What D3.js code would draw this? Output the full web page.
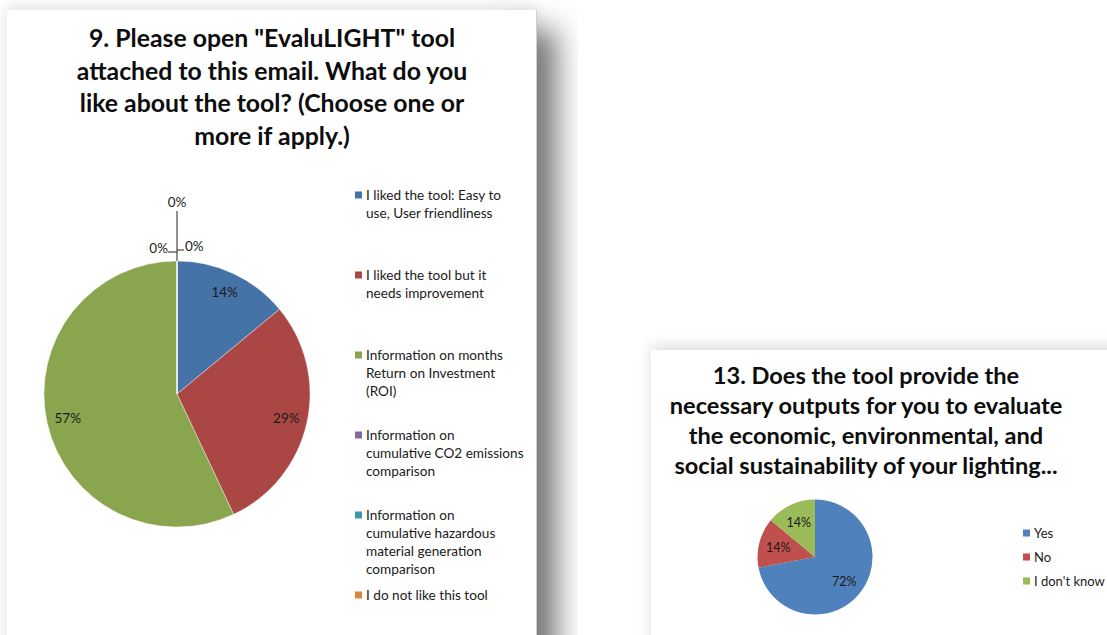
<!DOCTYPE html>
<html><head><meta charset="utf-8">
<script src="https://cdn.jsdelivr.net/npm/d3@7"></script>
<style>html,body{margin:0;padding:0;background:#fff;overflow:hidden}</style>
</head><body>
<svg id="chart" width="1107" height="635"></svg>
<script>
// ---------- data ----------
const q9Title = ['9. Please open "EvaluLIGHT" tool', 'attached to this email. What do you', 'like about the tool? (Choose one or', 'more if apply.)'];
const q9Categories = ['I liked the tool: Easy to use, User friendliness', 'I liked the tool but it needs improvement', 'Information on months Return on Investment (ROI)', 'Information on cumulative CO2 emissions comparison', 'Information on cumulative hazardous material generation comparison', 'I do not like this tool'];
const q9LegendLines = [
  ['I liked the tool: Easy to', 'use, User friendliness'],
  ['I liked the tool but it', 'needs improvement'],
  ['Information on months', 'Return on Investment', '(ROI)'],
  ['Information on', 'cumulative CO2 emissions', 'comparison'],
  ['Information on', 'cumulative hazardous', 'material generation', 'comparison'],
  ['I do not like this tool']
];
const q9Values = [14, 29, 57, 0, 0, 0];
const q9Colors = ['#4572A7', '#AA4643', '#89A54E', '#80699B', '#3D96AE', '#DB843D'];

const q13Title = ['13. Does the tool provide the', 'necessary outputs for you to evaluate', 'the economic, environmental, and', 'social sustainability of your lighting...'];
const q13Categories = ['Yes', 'No', "I don't know"];
const q13Values = [72, 14, 14];
const q13Colors = ['#4F81BD', '#C0504D', '#9BBB59'];

// ---------- drawing ----------
const FONT = 'Lato, "Open Sans", sans-serif';
const svg = d3.select('#chart');
const defs = svg.append('defs');
defs.append('filter').attr('id', 'blurL').attr('x', '-50%').attr('y', '-50%').attr('width', '200%').attr('height', '200%')
  .append('feGaussianBlur').attr('stdDeviation', 15);
defs.append('filter').attr('id', 'blurS').attr('x', '-50%').attr('y', '-50%').attr('width', '200%').attr('height', '200%')
  .append('feGaussianBlur').attr('stdDeviation', 7);

// left panel shadow + panel
svg.append('rect').attr('x', 7).attr('y', 6).attr('width', 529).attr('height', 700).attr('fill', '#e2e2e2').attr('filter', 'url(#blurS)');
svg.append('rect').attr('x', 512).attr('y', 30).attr('width', 44).attr('height', 700).attr('fill', '#707070').attr('filter', 'url(#blurL)');
svg.append('rect').attr('x', 7).attr('y', 10).attr('width', 529).attr('height', 700).attr('fill', '#fff');
svg.append('line').attr('x1', 536.5).attr('x2', 536.5).attr('y1', 10).attr('y2', 635).attr('stroke', '#cfcfcf').attr('stroke-width', 1);

// right panel shadow + panel
svg.append('rect').attr('x', 651).attr('y', 346).attr('width', 500).attr('height', 300).attr('fill', '#dcdcdc').attr('filter', 'url(#blurS)');
svg.append('rect').attr('x', 651).attr('y', 350).attr('width', 500).attr('height', 300).attr('fill', '#fff');

function drawTitle(lines, cx, y0, lh, size) {
  const t = svg.append('g');
  t.selectAll('text').data(lines).join('text')
    .attr('x', cx).attr('y', (d, i) => y0 + i * lh)
    .attr('text-anchor', 'middle')
    .attr('font-family', FONT).attr('font-weight', 700).attr('font-size', size)
    .attr('fill', '#0d0d0d')
    .text(d => d);
}

// ----- chart 9 -----
drawTitle(q9Title, 272, 47, 32.7, 24.8);
{
  const cx = 177, cy = 394, r = 133;
  const pie = d3.pie().sort(null).value(d => d);
  const arcs = pie(q9Values);
  const arc = d3.arc().innerRadius(0).outerRadius(r);
  const lab = d3.arc().innerRadius(112).outerRadius(112);
  const g = svg.append('g').attr('transform', `translate(${cx},${cy})`);
  g.selectAll('path').data(arcs).join('path')
    .attr('d', arc).attr('fill', (d, i) => q9Colors[i])
    .attr('stroke', '#fff').attr('stroke-width', 0.4);
  const nonZero = arcs.filter(d => d.value > 0);
  g.selectAll('text.lab').data(nonZero).join('text').attr('class', 'lab')
    .attr('x', d => lab.centroid(d)[0]).attr('y', d => lab.centroid(d)[1] + 4.5)
    .attr('text-anchor', 'middle').attr('font-family', FONT).attr('font-size', 13.5).attr('fill', '#1a1a1a')
    .text(d => d.value + '%');
  // zero-value slices sit at the top; labels with leader lines
  const zero = arcs.filter(d => d.value === 0);
  const top = [0, -r];
  const zeroLayout = [
    { line: [[top[0] - 9, top[1] - 9], [top[0], top[1] - 9]], tx: top[0] - 9, ty: top[1] - 9, anchor: 'end' },
    { line: [[top[0], top[1] - 50], [top[0], top[1]]], tx: top[0], ty: top[1] - 55, anchor: 'middle' },
    { line: [[top[0], top[1] - 11], [top[0] + 7, top[1] - 11]], tx: top[0] + 8, ty: top[1] - 11, anchor: 'start' }
  ];
  zero.forEach((d, k) => {
    const L = zeroLayout[k];
    g.append('path').attr('d', d3.line()(L.line)).attr('stroke', '#222').attr('stroke-width', 1).attr('fill', 'none');
    g.append('text').attr('x', L.tx).attr('y', L.ty + 1).attr('text-anchor', L.anchor)
      .attr('font-family', FONT).attr('font-size', 13.5).attr('fill', '#1a1a1a').text(d.value + '%');
  });
  // legend
  const ly = d3.scalePoint().domain(d3.range(q9Categories.length)).range([195, 595]);
  const leg = svg.append('g');
  q9Categories.forEach((c, i) => {
    const y = ly(i);
    leg.append('rect').attr('x', 355).attr('y', y - 3.5).attr('width', 7).attr('height', 7).attr('fill', q9Colors[i]);
    q9LegendLines[i].forEach((ln, j) => {
      leg.append('text').attr('x', 366).attr('y', y + 4.5 + j * 18)
        .attr('font-family', FONT).attr('font-size', 13.6).attr('fill', '#1a1a1a').text(ln);
    });
  });
}

// ----- chart 13 -----
drawTitle(q13Title, 866, 384, 30, 23.6);
{
  const cx = 815, cy = 557, r = 57.5;
  const pie = d3.pie().sort(null).value(d => d);
  const arcs = pie(q13Values);
  const arc = d3.arc().innerRadius(0).outerRadius(r);
  const lab = d3.arc().innerRadius(38).outerRadius(38);
  const g = svg.append('g').attr('transform', `translate(${cx},${cy})`);
  g.selectAll('path').data(arcs).join('path')
    .attr('d', arc).attr('fill', (d, i) => q13Colors[i]);
  g.selectAll('text').data(arcs).join('text')
    .attr('x', d => lab.centroid(d)[0]).attr('y', d => lab.centroid(d)[1] + 4.5)
    .attr('text-anchor', 'middle').attr('font-family', FONT).attr('font-size', 12.5).attr('fill', '#1a1a1a')
    .text(d => d.value + '%');
  const ly = d3.scalePoint().domain(d3.range(q13Categories.length)).range([533, 581]);
  q13Categories.forEach((c, i) => {
    const y = ly(i);
    svg.append('rect').attr('x', 1023).attr('y', y - 3.5).attr('width', 7).attr('height', 7).attr('fill', q13Colors[i]);
    svg.append('text').attr('x', 1034).attr('y', y + 4.5)
      .attr('font-family', FONT).attr('font-size', 13).attr('fill', '#1a1a1a').text(c);
  });
}
</script>
</body></html>
